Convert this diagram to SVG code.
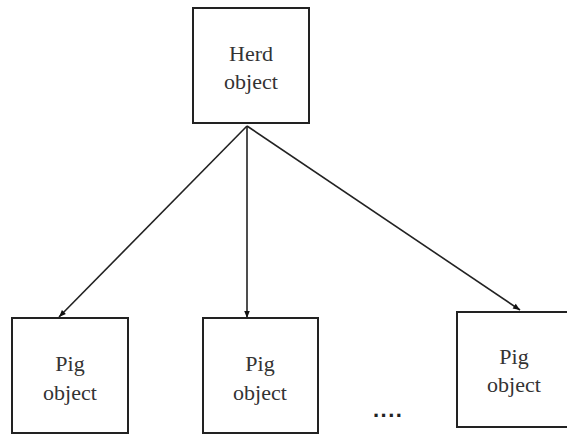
<svg xmlns="http://www.w3.org/2000/svg" width="567" height="435" viewBox="0 0 567 435">
<style>
.box{fill:#fff;stroke:#222;stroke-width:2}
.lbl{font-family:"Liberation Serif","Times New Roman",serif;font-size:22px;fill:#333;text-anchor:middle}
.con{stroke:#222;stroke-width:1.6;fill:none;marker-end:url(#ah)}
</style>
<defs>
<marker id="ah" viewBox="0 0 10 10" refX="10" refY="5" markerWidth="8" markerHeight="7" orient="auto" markerUnits="userSpaceOnUse">
<path d="M0,1 L10,5 L0,9 Z" fill="#111"/>
</marker>
</defs>
<rect width="567" height="435" fill="#fff"/>
<g id="connectors">
<line class="con" x1="247" y1="126" x2="59" y2="317"/>
<line class="con" x1="247" y1="126" x2="247" y2="318"/>
<line class="con" x1="247" y1="126" x2="520" y2="310"/>
</g>
<g id="herd">
<rect class="box" x="193" y="8" width="116" height="115"/>
<text class="lbl" x="251" y="61">Herd</text>
<text class="lbl" x="251" y="89">object</text>
</g>
<g id="pig1">
<rect class="box" x="12" y="318" width="116" height="115"/>
<text class="lbl" x="70" y="371">Pig</text>
<text class="lbl" x="70" y="400">object</text>
</g>
<g id="pig2">
<rect class="box" x="203" y="318" width="115" height="115"/>
<text class="lbl" x="260" y="371">Pig</text>
<text class="lbl" x="260" y="400">object</text>
</g>
<g id="pig3">
<rect class="box" x="457" y="312" width="116" height="115"/>
<text class="lbl" x="514" y="364">Pig</text>
<text class="lbl" x="514" y="392">object</text>
</g>
<text x="373" y="417" font-family="Liberation Sans, Arial, sans-serif" font-size="22" font-weight="bold" fill="#222" letter-spacing="1.5">....</text>
</svg>
